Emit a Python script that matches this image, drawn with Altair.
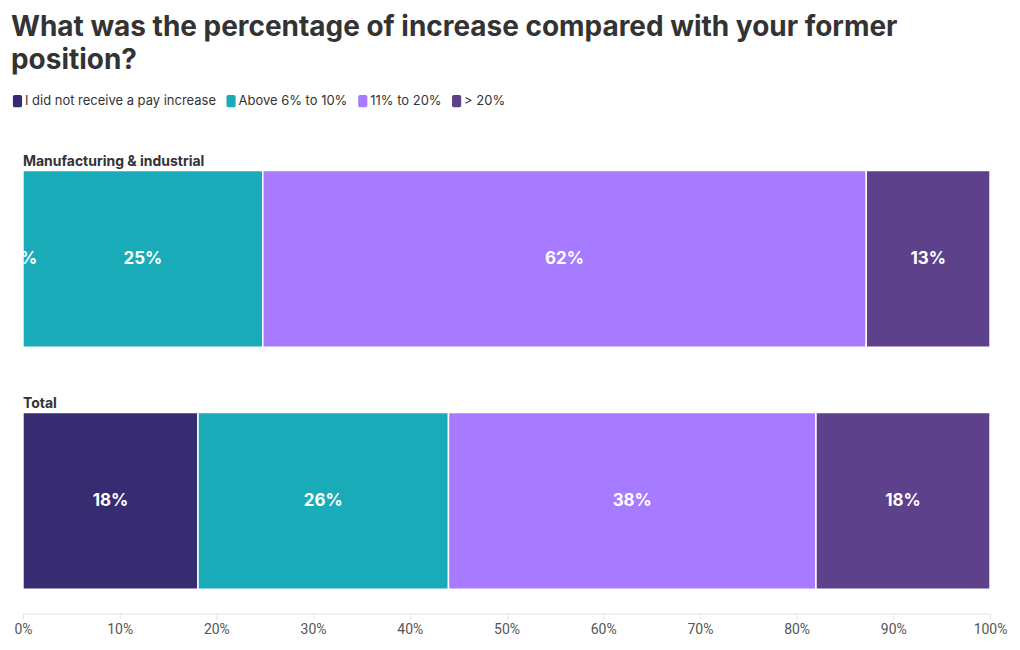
import altair as alt
import pandas as pd

rows = ["Manufacturing & industrial", "Total"]
answers = ["I did not receive a pay increase", "Above 6% to 10%", "11% to 20%", "> 20%"]
colors = ["#372c72", "#1aabb9", "#a77bff", "#5e418b"]
manufacturing = [0.0, 24.8, 62.4, 12.8]
total = [18.1, 25.9, 38.0, 18.0]
tick_values = [0, 10, 20, 30, 40, 50, 60, 70, 80, 90, 100]

recs = []
for r, vals in zip(rows, [manufacturing, total]):
    for i, (a, v) in enumerate(zip(answers, vals)):
        recs.append({"row": r, "answer": a, "order": i, "value": v})
df = pd.DataFrame(recs)

FONT = "Inter"

base = alt.Chart(df).transform_stack(
    stack="value", groupby=["row"], as_=["start", "end"],
    sort=[alt.SortField("order", order="ascending")]
).transform_calculate(
    mid="(datum.start + datum.end) / 2",
    label="format(datum.value / 100, '.0%')"
)

yscale = alt.Scale(domain=rows, paddingInner=0.27, paddingOuter=0.1)

bars = base.mark_bar(stroke="white", strokeWidth=1.5).encode(
    x=alt.X("start:Q", scale=alt.Scale(domain=[0, 100], nice=False),
            axis=alt.Axis(values=tick_values, labelExpr="datum.value + '%'", title=None,
                          grid=False, domainColor="#e4e4e4", tickColor="#e4e4e4",
                          tickSize=6, labelFont="Roboto", labelFontSize=14,
                          labelColor="#555555", labelPadding=3, labelFlush=False,
                          labelOverlap=False)),
    x2="end:Q",
    y=alt.Y("row:N", scale=yscale, axis=None),
    color=alt.Color("answer:N", scale=alt.Scale(domain=answers, range=colors),
                    legend=alt.Legend(title=None, orient="none", direction="horizontal",
                                      legendX=-12, legendY=-52,
                                      symbolType="M-0.45,-1 H0.45 A0.3,0.3 0 0 1 0.75,-0.7 V0.7 A0.3,0.3 0 0 1 0.45,1 H-0.45 A0.3,0.3 0 0 1 -0.75,0.7 V-0.7 A0.3,0.3 0 0 1 -0.45,-1 Z",
                                      symbolSize=150, symbolOpacity=1, symbolStrokeWidth=0,
                                      labelFont=FONT, labelFontSize=13, labelColor="#333333",
                                      labelLimit=0, labelOffset=1, columnPadding=8, symbolOffset=0)),
    order=alt.Order("order:Q"),
)

texts = base.mark_text(font=FONT, fontSize=17, fontWeight="bold", color="white", clip=True).encode(
    x="mid:Q",
    y=alt.Y("row:N", scale=yscale),
    text="label:N",
)

row_labels = alt.Chart(pd.DataFrame({"row": rows})).mark_text(
    align="left", baseline="alphabetic", dy=-93, font=FONT, fontSize=14,
    fontWeight="bold", color="#333333"
).encode(
    x=alt.value(0),
    y=alt.Y("row:N", scale=yscale),
    text="row:N",
)

chart = alt.layer(bars, texts, row_labels).properties(
    width=969, height=468,
    padding={"left": 3, "top": 5, "right": 5, "bottom": 5},
    title=alt.Title(["What was the percentage of increase compared with your former", "position?"],
                    anchor="start", font=FONT, fontSize=28, fontWeight="bold",
                    color="#333333", lineHeight=34, offset=19),
).configure_view(stroke=None)

chart.save("out.html", embed_options={"renderer": "svg", "actions": False})
